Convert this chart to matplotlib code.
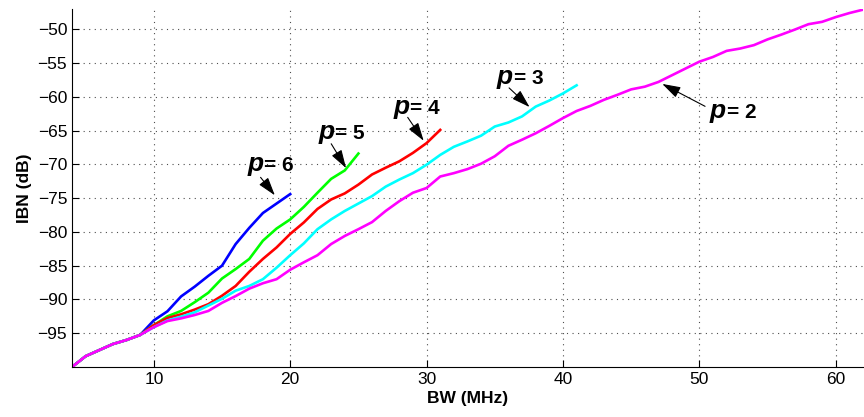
import numpy as np
import matplotlib
matplotlib.use("Agg")
import matplotlib.pyplot as plt

plt.rcParams['font.family'] = ['Liberation Sans', 'DejaVu Sans']

# IBN (dB) read at each integer BW (MHz), curves start at 4 MHz
common = [-100, -98.4, -97.5, -96.6, -96.0, -95.25]   # 4..9 MHz, shared

ibn_p6 = common + [-93.1, -91.75, -89.55, -88.1, -86.5, -85.0, -81.8, -79.4,
                   -77.2, -75.8, -74.4]
ibn_p5 = common + [-93.8, -92.5, -91.7, -90.4, -89.0, -86.9, -85.5, -84.0,
                   -81.3, -79.5, -78.15, -76.3, -74.2, -72.15, -70.9, -68.4]
ibn_p4 = common + [-93.8, -92.75, -92.2, -91.5, -90.7, -89.45, -88.0, -85.9,
                   -84.0, -82.3, -80.3, -78.6, -76.6, -75.2, -74.3, -73.0,
                   -71.5, -70.5, -69.55, -68.3, -66.85, -64.9]
ibn_p3 = common + [-94.1, -93.1, -92.55, -91.9, -90.9, -89.9, -88.7, -88.0,
                   -87.0, -85.3, -83.45, -81.7, -79.6, -78.15, -76.9, -75.8,
                   -74.7, -73.3, -72.25, -71.3, -70.05, -68.6, -67.4, -66.6,
                   -65.75, -64.4, -63.8, -62.9, -61.45, -60.55, -59.5, -58.3]
ibn_p2 = common + [-94.1, -93.2, -92.8, -92.3, -91.7, -90.5, -89.5, -88.4,
                   -87.6, -87.0, -85.6, -84.5, -83.45, -81.8, -80.6, -79.6,
                   -78.55, -76.9, -75.45, -74.2, -73.5, -71.8, -71.3, -70.7,
                   -69.9, -68.8, -67.25, -66.35, -65.4, -64.3, -63.15, -62.1,
                   -61.35, -60.45, -59.7, -58.9, -58.5, -57.8, -56.8, -55.8,
                   -54.8, -54.1, -53.2, -52.85, -52.35, -51.5, -50.8, -50.05,
                   -49.25, -48.9, -48.2, -47.6, -47.1]

curves = [('6', ibn_p6, 'b'), ('5', ibn_p5, 'lime'), ('4', ibn_p4, 'r'),
          ('3', ibn_p3, 'cyan'), ('2', ibn_p2, 'magenta')]

# label baseline pos, arrow tail, arrow head (data coords)
labels = {
    '6': ((18.3, -71.0), (17.7, -71.6), (19.0, -74.9)),
    '5': ((23.5, -66.2), (22.9, -66.6), (24.2, -70.9)),
    '4': ((29.0, -62.5), (28.5, -62.7), (29.9, -66.85)),
    '3': ((36.6, -58.1), (35.9, -58.4), (37.7, -61.8)),
    '2': ((52.2, -63.2), (50.6, -61.6), (47.1, -57.9)),
}

fig = plt.figure(figsize=(8.64, 4.17), dpi=100)
ax = fig.add_axes([72 / 864, 1 - 367 / 417, (863 - 72) / 864, (367 - 9) / 417])

for name, ibn, col in curves:
    bw = np.arange(4, 4 + len(ibn))
    ax.plot(bw, ibn, color=col, lw=1.9)

for name, (txt, tail, head) in labels.items():
    ax.annotate('', xy=head, xytext=tail,
                arrowprops=dict(arrowstyle='-|>,head_length=0.8,head_width=0.25',
                                color='k', lw=0.8, mutation_scale=14))
    ax.text(txt[0] - 0.25, txt[1], 'p', fontsize=19, fontweight='bold',
            fontstyle='italic', ha='right', va='baseline')
    ax.text(txt[0] - 0.2, txt[1], '= ' + name, fontsize=15,
            fontweight='bold', ha='left', va='baseline')

ax.set_xlim(4, 62)
ax.set_ylim(-100, -47)
ax.set_xticks([10, 20, 30, 40, 50, 60])
ax.set_yticks(np.arange(-95, -49, 5))
ax.grid(True, linestyle=(0, (1, 4)), color='0.3', lw=0.8)
ax.tick_params(direction='in', length=5, labelsize=12.5)
for s in ['top', 'right']:
    ax.spines[s].set_visible(False)

ax.set_xlabel('BW (MHz)', fontsize=12.5, fontweight='bold', labelpad=3)
ax.set_ylabel('IBN (dB)', fontsize=12.5, fontweight='bold', labelpad=4)

fig.savefig('out.png', dpi=100)
